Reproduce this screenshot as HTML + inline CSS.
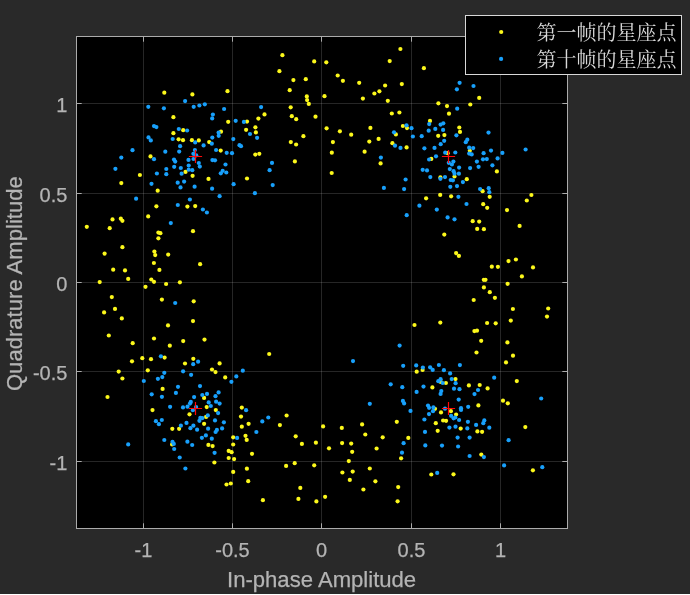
<!DOCTYPE html>
<html><head><meta charset="utf-8"><title>Constellation</title>
<style>
html,body{margin:0;padding:0;background:#292929;}
body{width:690px;height:595px;overflow:hidden;}
svg{display:block;will-change:transform;}
text{font-family:"Liberation Sans",sans-serif;fill:#b4b4b4;stroke:#b4b4b4;stroke-width:0.25px;}
.t{font-size:20px;}
.l{font-size:22.1px;}
</style></head><body>
<svg width="690" height="595" viewBox="0 0 690 595">
<rect x="0" y="0" width="690" height="595" fill="#292929"/>
<rect x="76" y="36" width="492" height="493" fill="#000"/>
<g stroke="#ffffff" stroke-opacity="0.15" stroke-width="1" shape-rendering="crispEdges">
<line x1="143.5" y1="36.5" x2="143.5" y2="528.5"/>
<line x1="232.5" y1="36.5" x2="232.5" y2="528.5"/>
<line x1="321.5" y1="36.5" x2="321.5" y2="528.5"/>
<line x1="411.5" y1="36.5" x2="411.5" y2="528.5"/>
<line x1="500.5" y1="36.5" x2="500.5" y2="528.5"/>
<line x1="76.5" y1="103.5" x2="567.5" y2="103.5"/>
<line x1="76.5" y1="193.5" x2="567.5" y2="193.5"/>
<line x1="76.5" y1="282.5" x2="567.5" y2="282.5"/>
<line x1="76.5" y1="371.5" x2="567.5" y2="371.5"/>
<line x1="76.5" y1="461.5" x2="567.5" y2="461.5"/>
</g>
<g fill="#fcf81b">
<circle cx="164.3" cy="92.7" r="2.1"/><circle cx="192.4" cy="94.4" r="2.1"/><circle cx="227.5" cy="91.2" r="2.1"/><circle cx="173.4" cy="117.2" r="2.1"/><circle cx="228.2" cy="121.8" r="2.1"/><circle cx="247" cy="121.6" r="2.1"/><circle cx="264.5" cy="114.4" r="2.1"/><circle cx="258.4" cy="118.6" r="2.1"/><circle cx="255.4" cy="127.3" r="2.1"/><circle cx="246.1" cy="129.8" r="2.1"/><circle cx="183.2" cy="130.2" r="2.1"/><circle cx="282.4" cy="55.2" r="2.1"/><circle cx="314.2" cy="61.4" r="2.1"/><circle cx="326.3" cy="62.3" r="2.1"/><circle cx="279.4" cy="71.2" r="2.1"/><circle cx="337.7" cy="75.5" r="2.1"/><circle cx="293.4" cy="80.1" r="2.1"/><circle cx="305.8" cy="79.2" r="2.1"/><circle cx="342.9" cy="80.8" r="2.1"/><circle cx="359.2" cy="82.8" r="2.1"/><circle cx="289.7" cy="90.2" r="2.1"/><circle cx="306.8" cy="96.4" r="2.1"/><circle cx="324.5" cy="96.2" r="2.1"/><circle cx="307.1" cy="100.1" r="2.1"/><circle cx="362.9" cy="98.6" r="2.1"/><circle cx="308.8" cy="103.9" r="2.1"/><circle cx="290.7" cy="107.3" r="2.1"/><circle cx="291.8" cy="116.2" r="2.1"/><circle cx="296.2" cy="119.2" r="2.1"/><circle cx="315.5" cy="116.7" r="2.1"/><circle cx="326.6" cy="128.3" r="2.1"/><circle cx="370.4" cy="127.9" r="2.1"/><circle cx="400.4" cy="49" r="2.1"/><circle cx="389.7" cy="61.1" r="2.1"/><circle cx="423.9" cy="68.2" r="2.1"/><circle cx="385.1" cy="85.5" r="2.1"/><circle cx="401.8" cy="84.1" r="2.1"/><circle cx="379.4" cy="91.3" r="2.1"/><circle cx="374.4" cy="93.5" r="2.1"/><circle cx="387.8" cy="100.8" r="2.1"/><circle cx="438.4" cy="103.3" r="2.1"/><circle cx="447" cy="106.1" r="2.1"/><circle cx="470.3" cy="104.5" r="2.1"/><circle cx="391.8" cy="113.5" r="2.1"/><circle cx="399.4" cy="112.5" r="2.1"/><circle cx="449" cy="113.7" r="2.1"/><circle cx="430" cy="120.9" r="2.1"/><circle cx="402.9" cy="126" r="2.1"/><circle cx="459.3" cy="127.5" r="2.1"/><circle cx="479.2" cy="97.9" r="2.1"/><circle cx="150.5" cy="156.4" r="2.1"/><circle cx="139.9" cy="175" r="2.1"/><circle cx="121.3" cy="183.1" r="2.1"/><circle cx="157.7" cy="190.7" r="2.1"/><circle cx="156.4" cy="206.3" r="2.1"/><circle cx="148.2" cy="216.4" r="2.1"/><circle cx="112.5" cy="219.4" r="2.1"/><circle cx="120.8" cy="218.7" r="2.1"/><circle cx="122.4" cy="220.8" r="2.1"/><circle cx="86.8" cy="226.8" r="2.1"/><circle cx="109.7" cy="228.2" r="2.1"/><circle cx="173.4" cy="133.2" r="2.1"/><circle cx="178.6" cy="139.3" r="2.1"/><circle cx="183" cy="140.2" r="2.1"/><circle cx="191.9" cy="140.2" r="2.1"/><circle cx="198.8" cy="140.4" r="2.1"/><circle cx="209.2" cy="142.1" r="2.1"/><circle cx="185.5" cy="171.9" r="2.1"/><circle cx="192.6" cy="175.8" r="2.1"/><circle cx="221" cy="131.7" r="2.1"/><circle cx="255.9" cy="132.4" r="2.1"/><circle cx="220.7" cy="150.6" r="2.1"/><circle cx="255.3" cy="154.6" r="2.1"/><circle cx="259.3" cy="153.8" r="2.1"/><circle cx="208.5" cy="178.9" r="2.1"/><circle cx="187.4" cy="206.6" r="2.1"/><circle cx="195.2" cy="206.1" r="2.1"/><circle cx="247" cy="178.5" r="2.1"/><circle cx="303.4" cy="136.2" r="2.1"/><circle cx="290.8" cy="142.1" r="2.1"/><circle cx="296.1" cy="144.5" r="2.1"/><circle cx="294.9" cy="161.4" r="2.1"/><circle cx="339.9" cy="131.3" r="2.1"/><circle cx="351.2" cy="134.7" r="2.1"/><circle cx="332.9" cy="142.1" r="2.1"/><circle cx="369.3" cy="141.6" r="2.1"/><circle cx="331.8" cy="152.7" r="2.1"/><circle cx="364.6" cy="151.7" r="2.1"/><circle cx="331.7" cy="173" r="2.1"/><circle cx="407" cy="128.1" r="2.1"/><circle cx="395.9" cy="134.4" r="2.1"/><circle cx="378.6" cy="138.9" r="2.1"/><circle cx="392.4" cy="143.2" r="2.1"/><circle cx="406.6" cy="147.4" r="2.1"/><circle cx="380.6" cy="163.4" r="2.1"/><circle cx="460" cy="131.9" r="2.1"/><circle cx="438.2" cy="135.8" r="2.1"/><circle cx="444.4" cy="135.1" r="2.1"/><circle cx="447.7" cy="153.2" r="2.1"/><circle cx="431.3" cy="158.9" r="2.1"/><circle cx="469.8" cy="150.8" r="2.1"/><circle cx="496.9" cy="171.4" r="2.1"/><circle cx="440.4" cy="177.4" r="2.1"/><circle cx="454.5" cy="176.5" r="2.1"/><circle cx="466.8" cy="179.2" r="2.1"/><circle cx="440.2" cy="194.9" r="2.1"/><circle cx="451.1" cy="196.3" r="2.1"/><circle cx="426.1" cy="198.3" r="2.1"/><circle cx="482.6" cy="191.2" r="2.1"/><circle cx="489.7" cy="196.8" r="2.1"/><circle cx="483.2" cy="204.2" r="2.1"/><circle cx="487.2" cy="207.8" r="2.1"/><circle cx="507" cy="210.1" r="2.1"/><circle cx="472.7" cy="221.2" r="2.1"/><circle cx="479.2" cy="221.6" r="2.1"/><circle cx="158.4" cy="232.6" r="2.1"/><circle cx="160.4" cy="233.2" r="2.1"/><circle cx="158.4" cy="238.3" r="2.1"/><circle cx="122.4" cy="247.2" r="2.1"/><circle cx="104.6" cy="253.6" r="2.1"/><circle cx="154.4" cy="251.6" r="2.1"/><circle cx="155.2" cy="255.1" r="2.1"/><circle cx="168.2" cy="254.6" r="2.1"/><circle cx="153.9" cy="263" r="2.1"/><circle cx="113.2" cy="269.7" r="2.1"/><circle cx="125" cy="270.4" r="2.1"/><circle cx="159.4" cy="269.9" r="2.1"/><circle cx="128.2" cy="278.9" r="2.1"/><circle cx="151.3" cy="279.5" r="2.1"/><circle cx="154" cy="281.8" r="2.1"/><circle cx="99.7" cy="282.1" r="2.1"/><circle cx="166.1" cy="284" r="2.1"/><circle cx="145.5" cy="286.8" r="2.1"/><circle cx="111.8" cy="297.1" r="2.1"/><circle cx="161.9" cy="299.6" r="2.1"/><circle cx="115" cy="308.9" r="2.1"/><circle cx="104.1" cy="312.4" r="2.1"/><circle cx="121.8" cy="318.4" r="2.1"/><circle cx="193" cy="231.2" r="2.1"/><circle cx="200.1" cy="264.2" r="2.1"/><circle cx="179.9" cy="282.3" r="2.1"/><circle cx="193.7" cy="301.3" r="2.1"/><circle cx="193" cy="321.1" r="2.1"/><circle cx="444.3" cy="234.6" r="2.1"/><circle cx="456.1" cy="253.1" r="2.1"/><circle cx="458.9" cy="255.9" r="2.1"/><circle cx="440.3" cy="322.6" r="2.1"/><circle cx="414.5" cy="325" r="2.1"/><circle cx="477.2" cy="228.9" r="2.1"/><circle cx="483.9" cy="229.2" r="2.1"/><circle cx="519.6" cy="225.9" r="2.1"/><circle cx="515.9" cy="259.5" r="2.1"/><circle cx="508.5" cy="261.1" r="2.1"/><circle cx="491.8" cy="266.7" r="2.1"/><circle cx="497.9" cy="266.8" r="2.1"/><circle cx="533" cy="267.4" r="2.1"/><circle cx="521.9" cy="276.4" r="2.1"/><circle cx="483.8" cy="279.8" r="2.1"/><circle cx="485.5" cy="279.8" r="2.1"/><circle cx="507.6" cy="283.8" r="2.1"/><circle cx="483.9" cy="287.4" r="2.1"/><circle cx="489.8" cy="292.2" r="2.1"/><circle cx="494.9" cy="297.8" r="2.1"/><circle cx="473.7" cy="300" r="2.1"/><circle cx="512.9" cy="309" r="2.1"/><circle cx="548.2" cy="308.5" r="2.1"/><circle cx="547" cy="316.6" r="2.1"/><circle cx="510.8" cy="320.6" r="2.1"/><circle cx="487.1" cy="323" r="2.1"/><circle cx="495.7" cy="323.3" r="2.1"/><circle cx="168" cy="325.4" r="2.1"/><circle cx="108.8" cy="335.5" r="2.1"/><circle cx="154" cy="338.5" r="2.1"/><circle cx="132.7" cy="343.2" r="2.1"/><circle cx="169.8" cy="345.7" r="2.1"/><circle cx="164.6" cy="357.6" r="2.1"/><circle cx="142.3" cy="358.2" r="2.1"/><circle cx="151" cy="359.2" r="2.1"/><circle cx="132" cy="361.3" r="2.1"/><circle cx="147.8" cy="370.3" r="2.1"/><circle cx="118.7" cy="371.6" r="2.1"/><circle cx="122.4" cy="378.5" r="2.1"/><circle cx="162.6" cy="388.9" r="2.1"/><circle cx="107.5" cy="397" r="2.1"/><circle cx="152.5" cy="410.1" r="2.1"/><circle cx="183.2" cy="341.1" r="2.1"/><circle cx="204.5" cy="339.6" r="2.1"/><circle cx="193.3" cy="358.8" r="2.1"/><circle cx="185" cy="363.5" r="2.1"/><circle cx="219.6" cy="363.4" r="2.1"/><circle cx="212" cy="369.5" r="2.1"/><circle cx="269.2" cy="354" r="2.1"/><circle cx="215.5" cy="372.1" r="2.1"/><circle cx="204.1" cy="397.9" r="2.1"/><circle cx="206.7" cy="407.1" r="2.1"/><circle cx="215.8" cy="410.1" r="2.1"/><circle cx="189.5" cy="414.3" r="2.1"/><circle cx="206.1" cy="416.9" r="2.1"/><circle cx="225.2" cy="377.4" r="2.1"/><circle cx="241.8" cy="407.6" r="2.1"/><circle cx="241" cy="416.6" r="2.1"/><circle cx="204.1" cy="423.8" r="2.1"/><circle cx="172.3" cy="428.8" r="2.1"/><circle cx="179.1" cy="428.8" r="2.1"/><circle cx="172.1" cy="444.4" r="2.1"/><circle cx="208.4" cy="444.9" r="2.1"/><circle cx="212.6" cy="446.1" r="2.1"/><circle cx="214.4" cy="462.5" r="2.1"/><circle cx="248.6" cy="423.8" r="2.1"/><circle cx="241.8" cy="426.7" r="2.1"/><circle cx="245.5" cy="435.8" r="2.1"/><circle cx="233.2" cy="437.3" r="2.1"/><circle cx="246.7" cy="439.9" r="2.1"/><circle cx="233.2" cy="444.5" r="2.1"/><circle cx="228.7" cy="450.9" r="2.1"/><circle cx="231.6" cy="452.2" r="2.1"/><circle cx="252" cy="453.8" r="2.1"/><circle cx="228.7" cy="458" r="2.1"/><circle cx="234.1" cy="459.1" r="2.1"/><circle cx="246.9" cy="468.7" r="2.1"/><circle cx="422.6" cy="370" r="2.1"/><circle cx="474.4" cy="331.1" r="2.1"/><circle cx="477" cy="330.7" r="2.1"/><circle cx="481.2" cy="340.8" r="2.1"/><circle cx="507.4" cy="342.4" r="2.1"/><circle cx="476.5" cy="352.5" r="2.1"/><circle cx="513" cy="355.7" r="2.1"/><circle cx="506" cy="362.4" r="2.1"/><circle cx="416.7" cy="371.7" r="2.1"/><circle cx="455.5" cy="379.1" r="2.1"/><circle cx="440.7" cy="381.9" r="2.1"/><circle cx="445.9" cy="383" r="2.1"/><circle cx="432.4" cy="387.4" r="2.1"/><circle cx="468.9" cy="385.4" r="2.1"/><circle cx="435" cy="408.8" r="2.1"/><circle cx="441" cy="412.4" r="2.1"/><circle cx="450.9" cy="411.2" r="2.1"/><circle cx="456.1" cy="414.5" r="2.1"/><circle cx="443.1" cy="420.5" r="2.1"/><circle cx="446.1" cy="420.8" r="2.1"/><circle cx="479.7" cy="385" r="2.1"/><circle cx="487.6" cy="388.4" r="2.1"/><circle cx="478.4" cy="405.4" r="2.1"/><circle cx="396.8" cy="421.8" r="2.1"/><circle cx="382.7" cy="437.3" r="2.1"/><circle cx="408.3" cy="437.9" r="2.1"/><circle cx="376.6" cy="448.5" r="2.1"/><circle cx="401.1" cy="458.3" r="2.1"/><circle cx="369.8" cy="468.5" r="2.1"/><circle cx="435.8" cy="423.2" r="2.1"/><circle cx="437.7" cy="430.8" r="2.1"/><circle cx="460.7" cy="428.6" r="2.1"/><circle cx="477.4" cy="431.4" r="2.1"/><circle cx="482.1" cy="431.8" r="2.1"/><circle cx="481.3" cy="454.6" r="2.1"/><circle cx="279.9" cy="425.1" r="2.1"/><circle cx="323.1" cy="426.4" r="2.1"/><circle cx="341.8" cy="427.9" r="2.1"/><circle cx="362.1" cy="424.4" r="2.1"/><circle cx="365.3" cy="434.5" r="2.1"/><circle cx="295.7" cy="436.3" r="2.1"/><circle cx="301.9" cy="443.9" r="2.1"/><circle cx="315.9" cy="442.7" r="2.1"/><circle cx="342.1" cy="443.1" r="2.1"/><circle cx="351.2" cy="443.6" r="2.1"/><circle cx="329" cy="448.3" r="2.1"/><circle cx="352.2" cy="451.8" r="2.1"/><circle cx="348.8" cy="461.1" r="2.1"/><circle cx="294.7" cy="463.2" r="2.1"/><circle cx="286.1" cy="465.9" r="2.1"/><circle cx="314.2" cy="465.3" r="2.1"/><circle cx="342.4" cy="472.5" r="2.1"/><circle cx="352.7" cy="471.6" r="2.1"/><circle cx="349.8" cy="479.9" r="2.1"/><circle cx="300.3" cy="487.9" r="2.1"/><circle cx="363.4" cy="489.5" r="2.1"/><circle cx="298.4" cy="498.9" r="2.1"/><circle cx="325.1" cy="496.8" r="2.1"/><circle cx="316.4" cy="501.4" r="2.1"/><circle cx="531.4" cy="195" r="2.1"/><circle cx="526.8" cy="200.5" r="2.1"/><circle cx="286.6" cy="415.5" r="2.1"/><circle cx="516.8" cy="381.1" r="2.1"/><circle cx="503" cy="400.7" r="2.1"/><circle cx="507.8" cy="403.3" r="2.1"/><circle cx="525.3" cy="427.1" r="2.1"/><circle cx="233.2" cy="471.9" r="2.1"/><circle cx="248.2" cy="481.2" r="2.1"/><circle cx="226.5" cy="484.5" r="2.1"/><circle cx="230.8" cy="483.5" r="2.1"/><circle cx="262.9" cy="500.2" r="2.1"/><circle cx="375.4" cy="481.3" r="2.1"/><circle cx="398.2" cy="487.1" r="2.1"/><circle cx="397.6" cy="501.3" r="2.1"/><circle cx="431.3" cy="474.5" r="2.1"/><circle cx="453.5" cy="474.3" r="2.1"/><circle cx="532.9" cy="470.3" r="2.1"/>
</g>
<g fill="#18a0fb">
<circle cx="148.3" cy="106.8" r="2.1"/><circle cx="163.9" cy="108.3" r="2.1"/><circle cx="154" cy="126.1" r="2.1"/><circle cx="156.4" cy="127.1" r="2.1"/><circle cx="185.1" cy="101.1" r="2.1"/><circle cx="193.7" cy="106.8" r="2.1"/><circle cx="199.4" cy="105.5" r="2.1"/><circle cx="204.8" cy="104.3" r="2.1"/><circle cx="224.1" cy="109" r="2.1"/><circle cx="212.9" cy="114.5" r="2.1"/><circle cx="212.2" cy="118.4" r="2.1"/><circle cx="235.7" cy="120.8" r="2.1"/><circle cx="243.9" cy="121.9" r="2.1"/><circle cx="261.1" cy="107.1" r="2.1"/><circle cx="178.8" cy="129" r="2.1"/><circle cx="187.1" cy="130.5" r="2.1"/><circle cx="459.6" cy="82.8" r="2.1"/><circle cx="456.9" cy="89.3" r="2.1"/><circle cx="457.2" cy="108.7" r="2.1"/><circle cx="406.5" cy="125.3" r="2.1"/><circle cx="411.5" cy="128.2" r="2.1"/><circle cx="429.2" cy="124.1" r="2.1"/><circle cx="443.3" cy="123.3" r="2.1"/><circle cx="440.6" cy="124.6" r="2.1"/><circle cx="435.3" cy="128.9" r="2.1"/><circle cx="473.5" cy="86" r="2.1"/><circle cx="148.5" cy="137.4" r="2.1"/><circle cx="150.8" cy="140.4" r="2.1"/><circle cx="132.5" cy="150.2" r="2.1"/><circle cx="165.3" cy="151.7" r="2.1"/><circle cx="121.3" cy="157.6" r="2.1"/><circle cx="154" cy="159.2" r="2.1"/><circle cx="115.4" cy="168.8" r="2.1"/><circle cx="166.3" cy="169" r="2.1"/><circle cx="156.9" cy="173.5" r="2.1"/><circle cx="166.3" cy="174.2" r="2.1"/><circle cx="151.5" cy="183.8" r="2.1"/><circle cx="136.1" cy="198.7" r="2.1"/><circle cx="172.7" cy="139" r="2.1"/><circle cx="195.2" cy="142.4" r="2.1"/><circle cx="180.1" cy="146.2" r="2.1"/><circle cx="203.6" cy="145.4" r="2.1"/><circle cx="212.3" cy="137.6" r="2.1"/><circle cx="218.6" cy="132.6" r="2.1"/><circle cx="218.7" cy="135.8" r="2.1"/><circle cx="211.8" cy="143.7" r="2.1"/><circle cx="179.2" cy="151.6" r="2.1"/><circle cx="194.9" cy="150" r="2.1"/><circle cx="193.4" cy="153.8" r="2.1"/><circle cx="196.2" cy="155.3" r="2.1"/><circle cx="216.1" cy="150" r="2.1"/><circle cx="174" cy="159.6" r="2.1"/><circle cx="175.2" cy="161.6" r="2.1"/><circle cx="188.5" cy="159.9" r="2.1"/><circle cx="193.5" cy="159" r="2.1"/><circle cx="212.4" cy="160.1" r="2.1"/><circle cx="215" cy="160.3" r="2.1"/><circle cx="198.8" cy="163" r="2.1"/><circle cx="199.8" cy="166.6" r="2.1"/><circle cx="188.7" cy="165.5" r="2.1"/><circle cx="174.2" cy="166.8" r="2.1"/><circle cx="180.8" cy="168" r="2.1"/><circle cx="188.7" cy="169.7" r="2.1"/><circle cx="192.3" cy="170.2" r="2.1"/><circle cx="181.6" cy="173.7" r="2.1"/><circle cx="233.3" cy="139.1" r="2.1"/><circle cx="250" cy="134" r="2.1"/><circle cx="257.1" cy="137.8" r="2.1"/><circle cx="239.5" cy="145.2" r="2.1"/><circle cx="241" cy="146.2" r="2.1"/><circle cx="226.7" cy="152.8" r="2.1"/><circle cx="232" cy="153.2" r="2.1"/><circle cx="225.5" cy="164.5" r="2.1"/><circle cx="222.7" cy="170.8" r="2.1"/><circle cx="226.3" cy="172.5" r="2.1"/><circle cx="220.8" cy="173.3" r="2.1"/><circle cx="269.6" cy="170.2" r="2.1"/><circle cx="184.1" cy="181.6" r="2.1"/><circle cx="177.7" cy="182.7" r="2.1"/><circle cx="180.5" cy="187.4" r="2.1"/><circle cx="194.6" cy="186.7" r="2.1"/><circle cx="212.1" cy="188.7" r="2.1"/><circle cx="219.6" cy="196.2" r="2.1"/><circle cx="189.9" cy="199.5" r="2.1"/><circle cx="177.8" cy="205" r="2.1"/><circle cx="202.9" cy="209.5" r="2.1"/><circle cx="206.9" cy="212.5" r="2.1"/><circle cx="170.8" cy="223.1" r="2.1"/><circle cx="233.6" cy="184.2" r="2.1"/><circle cx="254.9" cy="193.2" r="2.1"/><circle cx="272" cy="162.9" r="2.1"/><circle cx="272.7" cy="185.1" r="2.1"/><circle cx="394" cy="132.3" r="2.1"/><circle cx="412.9" cy="136.5" r="2.1"/><circle cx="395" cy="145.7" r="2.1"/><circle cx="400.5" cy="147.9" r="2.1"/><circle cx="380.9" cy="157.6" r="2.1"/><circle cx="428.7" cy="130.7" r="2.1"/><circle cx="443.1" cy="129.9" r="2.1"/><circle cx="421.7" cy="136.2" r="2.1"/><circle cx="456.4" cy="135.3" r="2.1"/><circle cx="444.2" cy="140.8" r="2.1"/><circle cx="440.7" cy="144.2" r="2.1"/><circle cx="467.3" cy="139.7" r="2.1"/><circle cx="465.8" cy="142.2" r="2.1"/><circle cx="424.4" cy="148.3" r="2.1"/><circle cx="434.5" cy="147.9" r="2.1"/><circle cx="469.2" cy="147.7" r="2.1"/><circle cx="445.2" cy="152.7" r="2.1"/><circle cx="455.3" cy="152.5" r="2.1"/><circle cx="436" cy="156.3" r="2.1"/><circle cx="469.2" cy="153.6" r="2.1"/><circle cx="429.1" cy="159.5" r="2.1"/><circle cx="448.8" cy="162.8" r="2.1"/><circle cx="453.4" cy="161.6" r="2.1"/><circle cx="451.9" cy="164.5" r="2.1"/><circle cx="459.1" cy="167.6" r="2.1"/><circle cx="449.8" cy="169.1" r="2.1"/><circle cx="453.6" cy="171.2" r="2.1"/><circle cx="422.7" cy="169.8" r="2.1"/><circle cx="427" cy="170.4" r="2.1"/><circle cx="470.1" cy="168.1" r="2.1"/><circle cx="458.9" cy="173.7" r="2.1"/><circle cx="454.5" cy="173.7" r="2.1"/><circle cx="488.5" cy="132.6" r="2.1"/><circle cx="473.2" cy="148.1" r="2.1"/><circle cx="491" cy="150.6" r="2.1"/><circle cx="483.6" cy="153.2" r="2.1"/><circle cx="502.4" cy="152.9" r="2.1"/><circle cx="471.7" cy="154.4" r="2.1"/><circle cx="497.6" cy="158.4" r="2.1"/><circle cx="483" cy="159.3" r="2.1"/><circle cx="486.8" cy="159.1" r="2.1"/><circle cx="476.9" cy="161.6" r="2.1"/><circle cx="492.4" cy="165.3" r="2.1"/><circle cx="478.6" cy="166.8" r="2.1"/><circle cx="405.6" cy="179.5" r="2.1"/><circle cx="383.9" cy="187.9" r="2.1"/><circle cx="404.1" cy="189.1" r="2.1"/><circle cx="419.4" cy="205.7" r="2.1"/><circle cx="406.7" cy="215.2" r="2.1"/><circle cx="430.3" cy="177.1" r="2.1"/><circle cx="440.4" cy="178.8" r="2.1"/><circle cx="445" cy="177.1" r="2.1"/><circle cx="450.7" cy="180" r="2.1"/><circle cx="452.9" cy="180.3" r="2.1"/><circle cx="462.9" cy="182.1" r="2.1"/><circle cx="450.3" cy="186.8" r="2.1"/><circle cx="457" cy="186.1" r="2.1"/><circle cx="458.4" cy="196.8" r="2.1"/><circle cx="466.5" cy="204" r="2.1"/><circle cx="436.8" cy="209.6" r="2.1"/><circle cx="447.6" cy="217.4" r="2.1"/><circle cx="454.5" cy="219.3" r="2.1"/><circle cx="480.1" cy="189" r="2.1"/><circle cx="488.7" cy="188.2" r="2.1"/><circle cx="489.3" cy="192.2" r="2.1"/><circle cx="175.2" cy="303" r="2.1"/><circle cx="160.9" cy="356.3" r="2.1"/><circle cx="164.3" cy="372.8" r="2.1"/><circle cx="162.3" cy="377.1" r="2.1"/><circle cx="157.9" cy="378.8" r="2.1"/><circle cx="143.8" cy="381" r="2.1"/><circle cx="151.7" cy="394.3" r="2.1"/><circle cx="161.9" cy="396.8" r="2.1"/><circle cx="170.1" cy="406.8" r="2.1"/><circle cx="161.8" cy="420" r="2.1"/><circle cx="198.1" cy="361.7" r="2.1"/><circle cx="193.2" cy="364.2" r="2.1"/><circle cx="242.8" cy="370.7" r="2.1"/><circle cx="183.1" cy="371.3" r="2.1"/><circle cx="191.1" cy="374.8" r="2.1"/><circle cx="178" cy="386.8" r="2.1"/><circle cx="200" cy="386.1" r="2.1"/><circle cx="175.9" cy="392.9" r="2.1"/><circle cx="202.3" cy="395" r="2.1"/><circle cx="207" cy="393.9" r="2.1"/><circle cx="194.1" cy="397.1" r="2.1"/><circle cx="218.6" cy="392.4" r="2.1"/><circle cx="215.5" cy="396.2" r="2.1"/><circle cx="190.8" cy="401.9" r="2.1"/><circle cx="190" cy="403.6" r="2.1"/><circle cx="208.7" cy="402.4" r="2.1"/><circle cx="216.1" cy="401.7" r="2.1"/><circle cx="219.6" cy="403.6" r="2.1"/><circle cx="210.8" cy="406" r="2.1"/><circle cx="183" cy="407.4" r="2.1"/><circle cx="187.5" cy="406.7" r="2.1"/><circle cx="196.1" cy="407" r="2.1"/><circle cx="192.9" cy="410.2" r="2.1"/><circle cx="218.1" cy="413.1" r="2.1"/><circle cx="207.8" cy="415.4" r="2.1"/><circle cx="200.3" cy="417.9" r="2.1"/><circle cx="202.4" cy="418.1" r="2.1"/><circle cx="215" cy="420.4" r="2.1"/><circle cx="236.3" cy="376.4" r="2.1"/><circle cx="231.4" cy="381.8" r="2.1"/><circle cx="246.1" cy="410.2" r="2.1"/><circle cx="268.3" cy="417.5" r="2.1"/><circle cx="199.4" cy="420.8" r="2.1"/><circle cx="186.5" cy="422.9" r="2.1"/><circle cx="180.9" cy="425.7" r="2.1"/><circle cx="193.4" cy="425.7" r="2.1"/><circle cx="190.4" cy="428.2" r="2.1"/><circle cx="197.1" cy="429.7" r="2.1"/><circle cx="208.1" cy="428.7" r="2.1"/><circle cx="216.9" cy="429.9" r="2.1"/><circle cx="215.6" cy="432" r="2.1"/><circle cx="205.9" cy="435.4" r="2.1"/><circle cx="201.9" cy="437.8" r="2.1"/><circle cx="211.8" cy="438.7" r="2.1"/><circle cx="172.5" cy="441.8" r="2.1"/><circle cx="173.8" cy="443.9" r="2.1"/><circle cx="187.4" cy="441.7" r="2.1"/><circle cx="192.2" cy="445" r="2.1"/><circle cx="174.2" cy="449" r="2.1"/><circle cx="214.6" cy="452.8" r="2.1"/><circle cx="179.7" cy="457.5" r="2.1"/><circle cx="185.4" cy="468.5" r="2.1"/><circle cx="223.9" cy="422.3" r="2.1"/><circle cx="262.3" cy="421.4" r="2.1"/><circle cx="222.1" cy="428.4" r="2.1"/><circle cx="256.4" cy="432" r="2.1"/><circle cx="237.1" cy="437.9" r="2.1"/><circle cx="399.6" cy="345.6" r="2.1"/><circle cx="403.2" cy="365.8" r="2.1"/><circle cx="416.2" cy="365.4" r="2.1"/><circle cx="438.9" cy="365" r="2.1"/><circle cx="459.9" cy="365.1" r="2.1"/><circle cx="422.9" cy="367.6" r="2.1"/><circle cx="430.1" cy="367.3" r="2.1"/><circle cx="432.7" cy="369.9" r="2.1"/><circle cx="443.9" cy="370.2" r="2.1"/><circle cx="390.7" cy="384.3" r="2.1"/><circle cx="402.3" cy="387.2" r="2.1"/><circle cx="416.6" cy="391.9" r="2.1"/><circle cx="402.9" cy="400.9" r="2.1"/><circle cx="404.1" cy="403.4" r="2.1"/><circle cx="410.5" cy="410.9" r="2.1"/><circle cx="450.1" cy="373.4" r="2.1"/><circle cx="440.6" cy="379.2" r="2.1"/><circle cx="438.3" cy="381.2" r="2.1"/><circle cx="451.7" cy="379.1" r="2.1"/><circle cx="442.7" cy="383" r="2.1"/><circle cx="455.6" cy="383.2" r="2.1"/><circle cx="423.5" cy="386.6" r="2.1"/><circle cx="454" cy="388.7" r="2.1"/><circle cx="459.5" cy="389.2" r="2.1"/><circle cx="441.3" cy="391" r="2.1"/><circle cx="440.6" cy="393.9" r="2.1"/><circle cx="458.7" cy="399.6" r="2.1"/><circle cx="428" cy="405.5" r="2.1"/><circle cx="429.1" cy="407.8" r="2.1"/><circle cx="433.4" cy="407.4" r="2.1"/><circle cx="445" cy="408.7" r="2.1"/><circle cx="461" cy="408.2" r="2.1"/><circle cx="461" cy="409.9" r="2.1"/><circle cx="468.2" cy="406.8" r="2.1"/><circle cx="433" cy="411.2" r="2.1"/><circle cx="429" cy="414.1" r="2.1"/><circle cx="451.1" cy="415.8" r="2.1"/><circle cx="455.3" cy="417.5" r="2.1"/><circle cx="453.6" cy="418.3" r="2.1"/><circle cx="424.4" cy="419.5" r="2.1"/><circle cx="459.1" cy="420" r="2.1"/><circle cx="494.2" cy="377.7" r="2.1"/><circle cx="478" cy="390" r="2.1"/><circle cx="474.5" cy="394.1" r="2.1"/><circle cx="484.3" cy="420.4" r="2.1"/><circle cx="403.6" cy="443.2" r="2.1"/><circle cx="402" cy="452.7" r="2.1"/><circle cx="467.9" cy="421.8" r="2.1"/><circle cx="449.4" cy="427.6" r="2.1"/><circle cx="455.5" cy="426.7" r="2.1"/><circle cx="467.3" cy="428.4" r="2.1"/><circle cx="425" cy="431.9" r="2.1"/><circle cx="457.6" cy="437.6" r="2.1"/><circle cx="469.6" cy="437.6" r="2.1"/><circle cx="425.3" cy="445.4" r="2.1"/><circle cx="442" cy="445.6" r="2.1"/><circle cx="458.1" cy="446.5" r="2.1"/><circle cx="469.6" cy="456" r="2.1"/><circle cx="483.3" cy="423.2" r="2.1"/><circle cx="476.1" cy="424.9" r="2.1"/><circle cx="489.3" cy="427.7" r="2.1"/><circle cx="508.6" cy="440.2" r="2.1"/><circle cx="483.9" cy="457.1" r="2.1"/><circle cx="504.1" cy="465.4" r="2.1"/><circle cx="155.9" cy="421.2" r="2.1"/><circle cx="158.9" cy="424.2" r="2.1"/><circle cx="164.3" cy="440" r="2.1"/><circle cx="128.2" cy="444.4" r="2.1"/><circle cx="525.6" cy="149.5" r="2.1"/><circle cx="353" cy="361.1" r="2.1"/><circle cx="369.8" cy="403.8" r="2.1"/><circle cx="541.2" cy="398.5" r="2.1"/><circle cx="437.2" cy="472.9" r="2.1"/><circle cx="542.3" cy="467.2" r="2.1"/>
</g>
<g stroke="#ff0808" stroke-width="1.2">
<path d="M188.9 156.5H202.1M195.5 149.9V163.1"/>
<path d="M441.9 156.5H455.1M448.5 149.9V163.1"/>
<path d="M188.9 408.5H202.1M195.5 401.9V415.1"/>
<path d="M441.9 408.5H455.1M448.5 401.9V415.1"/>
</g>
<rect x="76.5" y="36.5" width="491" height="492" stroke="#ababab" stroke-width="1" fill="none" shape-rendering="crispEdges"/>
<g stroke="#ababab" stroke-width="1" fill="none">
<path d="M143.5 528v-4.7M143.5 37v4.7"/>
<path d="M232.5 528v-4.7M232.5 37v4.7"/>
<path d="M321.5 528v-4.7M321.5 37v4.7"/>
<path d="M411.5 528v-4.7M411.5 37v4.7"/>
<path d="M500.5 528v-4.7M500.5 37v4.7"/>
<path d="M77 103.5h4.7M567 103.5h-4.7"/>
<path d="M77 193.5h4.7M567 193.5h-4.7"/>
<path d="M77 282.5h4.7M567 282.5h-4.7"/>
<path d="M77 371.5h4.7M567 371.5h-4.7"/>
<path d="M77 461.5h4.7M567 461.5h-4.7"/>
</g>
<text class="t" x="143.5" y="556.8" text-anchor="middle">-1</text>
<text class="t" x="232.5" y="556.8" text-anchor="middle">-0.5</text>
<text class="t" x="321.5" y="556.8" text-anchor="middle">0</text>
<text class="t" x="411.5" y="556.8" text-anchor="middle">0.5</text>
<text class="t" x="500.5" y="556.8" text-anchor="middle">1</text>
<text class="t" x="67.4" y="112" text-anchor="end">1</text>
<text class="t" x="67.4" y="202" text-anchor="end">0.5</text>
<text class="t" x="67.4" y="291" text-anchor="end">0</text>
<text class="t" x="67.4" y="380" text-anchor="end">-0.5</text>
<text class="t" x="67.4" y="470" text-anchor="end">-1</text>
<text class="l" x="321.6" y="586.9" text-anchor="middle">In-phase Amplitude</text>
<text class="l" transform="translate(22,283.6) rotate(-90)" text-anchor="middle">Quadrature Amplitude</text>
<rect x="465.5" y="15.5" width="216" height="59" fill="#000" stroke="#d8d8d8" stroke-width="1" shape-rendering="crispEdges"/>
<circle cx="501.2" cy="32" r="2.1" fill="#fcf81b"/>
<circle cx="501.1" cy="58.9" r="2.1" fill="#18a0fb"/>
<text x="536.4" y="40.4" style="font-family:'Liberation Serif','Noto Serif CJK SC',serif;font-size:20px;fill:#d9d9d9;stroke:none;">第一帧的星座点</text>
<text x="536.4" y="67.2" style="font-family:'Liberation Serif','Noto Serif CJK SC',serif;font-size:20px;fill:#d9d9d9;stroke:none;">第十帧的星座点</text>
<rect x="0" y="594" width="690" height="1" fill="#ffffff"/>
</svg>
</body></html>
